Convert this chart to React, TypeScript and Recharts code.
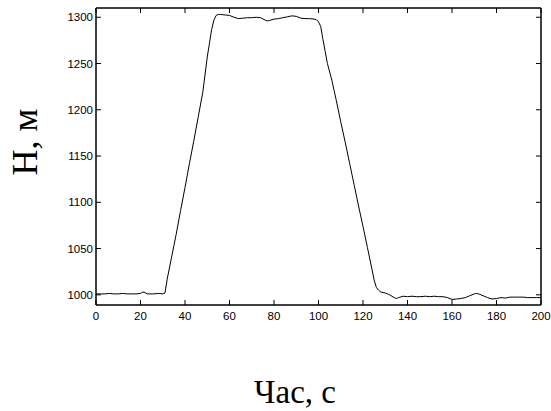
import { LineChart, Line, XAxis, YAxis } from 'recharts';

// висота польоту H (м) у часі t (с)
const times = [
  0, 2, 4, 6, 8, 10, 12, 14, 16, 18, 20, 21, 22, 23, 24, 26, 28, 30, 31, 32, 33, 34, 35, 36, 38, 40,
  42, 44, 46, 48, 50, 51, 52, 53, 54, 55, 56, 58, 60, 62, 64, 66, 68, 70, 72, 74, 76, 77, 78, 80,
  82, 84, 86, 88, 90, 92, 94, 96, 98, 99, 100, 101, 102, 103, 104, 106, 107, 108, 110, 112, 114, 116,
  118, 120, 122, 124, 125, 126, 127, 128, 130, 132, 134, 135, 136, 138, 140, 142, 144, 146, 148,
  150, 152, 154, 156, 158, 160, 162, 164, 166, 168, 170, 171, 172, 174, 176, 178, 180, 182, 184,
  186, 188, 190, 192, 194, 196, 198, 200,
];
const heights = [
  1001, 1001, 1001, 1001.5, 1001, 1001, 1001.5, 1001, 1001, 1001, 1001.5, 1003, 1002.5, 1001, 1001,
  1001, 1001.5, 1001, 1002, 1017, 1029, 1041, 1053, 1065, 1091, 1116, 1142, 1167, 1193, 1219, 1257,
  1272, 1287, 1297, 1302, 1303, 1303, 1302.5, 1302, 1300, 1298.5, 1299, 1299.5, 1299.5, 1300,
  1299.5, 1297, 1296, 1296.5, 1298, 1298.5, 1299.5, 1300.5, 1301.5, 1301, 1299, 1298.5, 1298.5,
  1298, 1297.5, 1295, 1290, 1276, 1263, 1250, 1232, 1221, 1210, 1187, 1165, 1142, 1119, 1096, 1074,
  1051, 1028, 1016, 1008, 1005, 1003, 1002, 1000, 997, 996, 997, 998.5, 998, 998.5, 998, 998, 998.5,
  998, 998.5, 998, 998, 997, 995, 995.5, 996, 997, 999, 1001, 1001.5, 1001, 999, 997, 995.5, 996,
  997, 996.5, 997.5, 997.5, 997.5, 997.5, 997, 997, 997, 997,
];
const xTicks = [0, 20, 40, 60, 80, 100, 120, 140, 160, 180, 200];
const yTicks = [1000, 1050, 1100, 1150, 1200, 1250, 1300];

const data = times.map((t, i) => ({ t, h: heights[i] }));

const tickFont = { fontFamily: 'Liberation Sans', fontSize: 11.5, fill: '#000' };
const serif = 'Liberation Serif';
const TICK = 5;

// мітки всередину рамки, як у MATLAB
function BottomTick({ x, y, payload }: any) {
  return (
    <g>
      <line x1={x} x2={x} y1={y} y2={y - TICK} stroke="#000" />
      <text x={x} y={y + 15} textAnchor="middle" style={tickFont}>
        {payload.value}
      </text>
    </g>
  );
}

function TopTick({ x, y }: any) {
  return <line x1={x} x2={x} y1={y} y2={y + TICK} stroke="#000" />;
}

function LeftTick({ x, y, payload }: any) {
  return (
    <g>
      <line x1={x} x2={x + TICK} y1={y} y2={y} stroke="#000" />
      <text x={x - 3} y={y + 4} textAnchor="end" style={tickFont}>
        {payload.value}
      </text>
    </g>
  );
}

function RightTick({ x, y }: any) {
  return <line x1={x} x2={x - TICK} y1={y} y2={y} stroke="#000" />;
}

export default function App() {
  return (
    <div style={{ position: 'absolute', left: 0, top: 0, width: 551, height: 411, background: '#fff' }}>
      <LineChart width={551} height={411} data={data} margin={{ top: 7, right: 9, bottom: 76, left: 56 }}>
        <XAxis
          xAxisId="b"
          dataKey="t"
          type="number"
          domain={[0, 200]}
          ticks={xTicks}
          height={30}
          tickSize={0}
          tickMargin={0}
          tickLine={false}
          tick={<BottomTick />}
          axisLine={{ stroke: '#000', strokeWidth: 1.5 }}
          interval={0}
        />
        <XAxis
          xAxisId="t"
          orientation="top"
          dataKey="t"
          type="number"
          domain={[0, 200]}
          ticks={xTicks}
          height={1}
          tickSize={0}
          tickMargin={0}
          tickLine={false}
          tick={<TopTick />}
          axisLine={{ stroke: '#000', strokeWidth: 1.5 }}
          interval={0}
        />
        <YAxis
          yAxisId="l"
          type="number"
          domain={[989, 1310]}
          ticks={yTicks}
          allowDataOverflow
          width={40}
          tickSize={0}
          tickMargin={0}
          tickLine={false}
          tick={<LeftTick />}
          axisLine={{ stroke: '#000', strokeWidth: 1.5 }}
          interval={0}
          label={{
            content: () => (
              <text
                x={37}
                y={142}
                transform="rotate(-90 37 142)"
                textAnchor="middle"
                fontFamily={serif}
                fontSize={36}
                fill="#000"
              >
                Н, м
              </text>
            ),
          }}
        />
        <YAxis
          yAxisId="r"
          orientation="right"
          type="number"
          domain={[989, 1310]}
          ticks={yTicks}
          allowDataOverflow
          width={1}
          tickSize={0}
          tickMargin={0}
          tickLine={false}
          tick={<RightTick />}
          axisLine={{ stroke: '#000', strokeWidth: 1.5 }}
          interval={0}
        />
        <Line
          xAxisId="b"
          yAxisId="l"
          dataKey="h"
          type="linear"
          stroke="#000"
          strokeWidth={1}
          dot={false}
          isAnimationActive={false}
        />
        <text x={295} y={403} textAnchor="middle" fontFamily={serif} fontSize={33} fill="#000">
          Час, с
        </text>
      </LineChart>
    </div>
  );
}
